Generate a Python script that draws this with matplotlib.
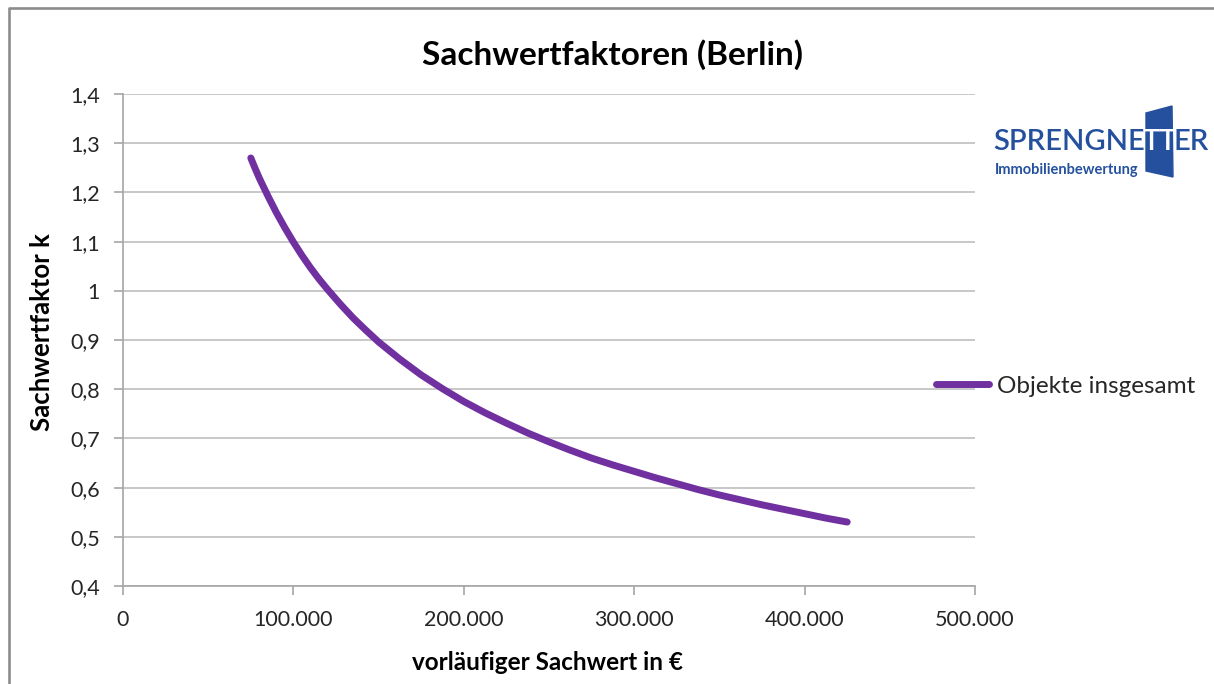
import matplotlib
matplotlib.use("Agg")
import matplotlib.pyplot as plt
from matplotlib.lines import Line2D
from matplotlib.patches import Polygon

# Sachwertfaktor k over vorläufiger Sachwert (Berlin, Objekte insgesamt)
sachwert = [75000, 77500, 80000, 82500, 85000, 87500, 90000, 95000, 100000,
            105000, 110000, 115000, 120000, 127500, 135000, 142500, 150000,
            162500, 175000, 187500, 200000, 212500, 225000, 237500, 250000,
            262500, 275000, 287500, 300000, 312500, 325000, 337500, 350000,
            362500, 375000, 387500, 400000, 412500, 425000]
faktor = [1.27, 1.249, 1.229, 1.211, 1.193, 1.176, 1.159, 1.128, 1.099,
          1.072, 1.047, 1.024, 1.003, 0.973, 0.945, 0.92, 0.896,
          0.861, 0.829, 0.801, 0.775, 0.752, 0.731, 0.711, 0.693,
          0.676, 0.66, 0.646, 0.633, 0.62, 0.608, 0.596, 0.585,
          0.575, 0.565, 0.556, 0.547, 0.538, 0.53]

x_ticks = [0, 100000, 200000, 300000, 400000, 500000]
y_ticks = [0.4, 0.5, 0.6, 0.7, 0.8, 0.9, 1.0, 1.1, 1.2, 1.3, 1.4]

series_label = "Objekte insgesamt"
title = "Sachwertfaktoren (Berlin)"
x_label = "vorläufiger Sachwert in €"
y_label = "Sachwertfaktor k"

W, H = 1214, 684
LINE = "#7030a0"
AXIS = "#a6a6a6"
TEXT = "#262626"
LOGO = "#24509e"

plt.rcParams["font.family"] = ["Lato", "DejaVu Sans"]


def fx(x):
    return x / W


def fy(y):
    return 1 - y / H


def de_num(v, decimals):
    s = f"{v:,.{decimals}f}"
    return s.replace(",", "X").replace(".", ",").replace("X", ".")


def y_fmt(v):
    s = f"{v:.1f}".replace(".", ",")
    return s[:-2] if s.endswith(",0") else s


fig = plt.figure(figsize=(W / 100, H / 100), dpi=100)

# chart frame (top and left edges)
fig.add_artist(Line2D([fx(9), fx(9), fx(W)], [0, fy(8), fy(8)],
                      color="#8c8c8c", lw=1.9, transform=fig.transFigure))

ax = fig.add_axes([fx(123), fy(586), fx(975) - fx(123), fy(94) - fy(586)])
ax.plot(sachwert, faktor, color=LINE, lw=5, solid_capstyle="round",
        solid_joinstyle="round", label=series_label)

ax.set_xlim(0, 500000)
ax.set_ylim(0.4, 1.4)
ax.set_xticks(x_ticks)
ax.set_yticks(y_ticks)
ax.set_xticklabels([de_num(v, 0) for v in x_ticks])
ax.set_yticklabels([y_fmt(v) for v in y_ticks])

ax.grid(axis="y", color="#bfbfbf", lw=1.2)
ax.set_axisbelow(True)
for side in ("top", "right"):
    ax.spines[side].set_visible(False)
for side in ("left", "bottom"):
    ax.spines[side].set_color(AXIS)
    ax.spines[side].set_linewidth(1.2)
ax.tick_params(direction="out", length=6.5, width=1.2, color=AXIS,
               labelcolor=TEXT, labelsize=15.5)
ax.tick_params(axis="x", pad=11)
ax.tick_params(axis="y", pad=10)

fig.text(fx(613), fy(55), title, ha="center", va="center",
         fontsize=24, fontweight="bold", color="black")
fig.text(fx(548), fy(662), x_label, ha="center", va="center",
         fontsize=17.5, fontweight="bold", color="black")
fig.text(fx(42), fy(332), y_label, ha="center", va="center", rotation=90,
         fontsize=18.5, fontweight="bold", color="black")

ax.legend(loc="center left", bbox_to_anchor=(fx(936), fy(386)),
          bbox_transform=fig.transFigure, frameon=False, fontsize=17.5,
          handlelength=2.2, handletextpad=0.3, borderpad=0, borderaxespad=0,
          labelcolor=TEXT)

# Sprengnetter logo
fig.add_artist(Polygon([(fx(1146), fy(113)), (fx(1172), fy(106)),
                        (fx(1173), fy(177)), (fx(1146), fy(171))],
                       closed=True, color=LOGO, transform=fig.transFigure))
fig.text(fx(1145), fy(150), "SPRENGNE", ha="right", va="baseline",
         fontsize=21, fontweight="semibold", color=LOGO)
fig.text(fx(1159.5), fy(150), "TT", ha="center", va="baseline",
         fontsize=21, fontweight="semibold", color="white")
fig.text(fx(1174), fy(150), "ER", ha="left", va="baseline",
         fontsize=21, fontweight="semibold", color=LOGO)
fig.text(fx(995), fy(174), "Immobilienbewertung", ha="left", va="baseline",
         fontsize=10.5, fontweight="bold", color=LOGO)

fig.savefig("out.png", dpi=100)
